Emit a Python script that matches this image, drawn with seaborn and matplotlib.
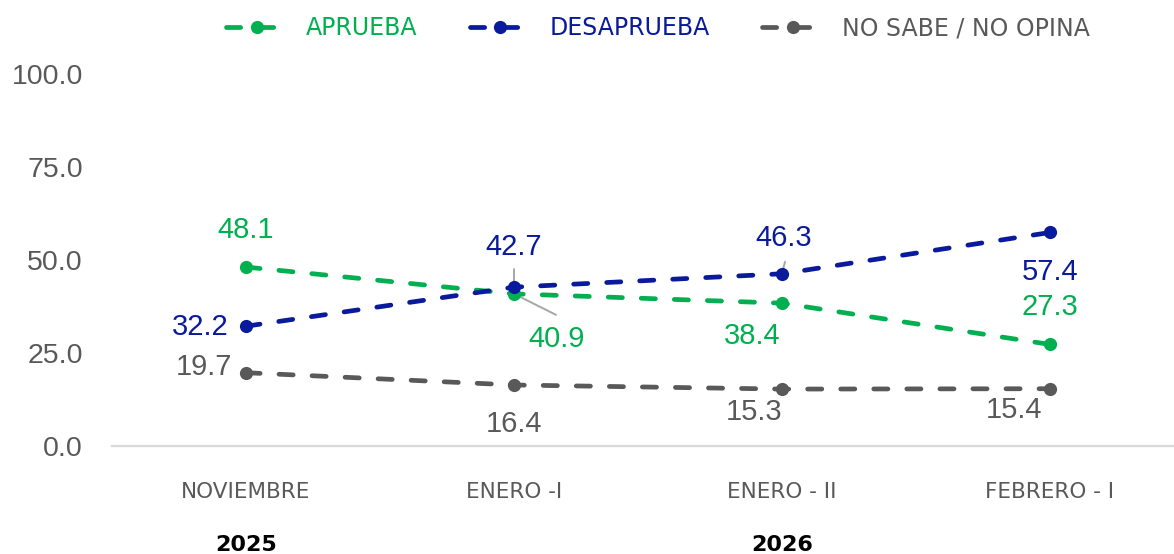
import numpy as np
import pandas as pd
import matplotlib
matplotlib.use("Agg")
import matplotlib.pyplot as plt
import matplotlib.transforms as mtransforms
from matplotlib.lines import Line2D
import seaborn as sns

# ── Data ──────────────────────────────────────────────────────────────────────
periods = ["NOVIEMBRE", "ENERO -I", "ENERO - II", "FEBRERO - I"]
years = {"2025": 0, "2026": 2}
aprueba = [48.1, 40.9, 38.4, 27.3]
desaprueba = [32.2, 42.7, 46.3, 57.4]
no_sabe = [19.7, 16.4, 15.3, 15.4]

series_names = ["APRUEBA", "DESAPRUEBA", "NO SABE / NO OPINA"]
series_vals = [aprueba, desaprueba, no_sabe]
colors = {"APRUEBA": "#00B050", "DESAPRUEBA": "#0A1A9C", "NO SABE / NO OPINA": "#595959"}

records = []
for name, vals in zip(series_names, series_vals):
    for i, v in enumerate(vals):
        records.append({"idx": i, "periodo": periods[i], "serie": name, "valor": v})
df = pd.DataFrame(records)

# label offsets in pixels (dx, dy), up is positive
label_offsets = {
    "APRUEBA": [(0, 37), (43, -45), (-30, -33), (0, 37)],
    "DESAPRUEBA": [(-46, -1), (0, 40), (2, 36), (0, -40)],
    "NO SABE / NO OPINA": [(-42, 6), (0, -39), (-28, -23), (-36, -21)],
}
# leader lines: (series, index, end offset px, shrink at point in pt)
leaders = [("APRUEBA", 1, (42, -21), 2), ("DESAPRUEBA", 1, (0, 18), 1.5),
           ("DESAPRUEBA", 2, (3, 12), 3)]

# ── Figure ────────────────────────────────────────────────────────────────────
sns.set_theme(style="white")
plt.rcParams["font.family"] = ["DejaVu Sans"]

W, H = 1174, 554
fig = plt.figure(figsize=(W / 100, H / 100), dpi=100)
ax = fig.add_axes([112 / W, 1 - 446 / H, (W - 112) / W, (446 - 74) / H])

LW = 3.4
DASH = (3.0, 4.0)
sns.lineplot(data=df, x="idx", y="valor", hue="serie", hue_order=series_names,
             palette=colors, marker="o", markersize=9.5, markeredgewidth=0,
             linewidth=LW, ax=ax, legend=False)
for line in ax.get_lines():
    line.set_dashes(DASH)
    line.set_dash_capstyle("round")

ax.set_xlim(-0.5, (W - 112) / 268 - 0.5)
ax.set_ylim(0, 100)
ax.set_yticks([0, 25, 50, 75, 100])
ax.set_yticklabels([f"{v:.1f}" for v in [0, 25, 50, 75, 100]])
ax.set_xticks(range(len(periods)))
ax.set_xticklabels(periods)
ax.set_xlabel("")
ax.set_ylabel("")

for s in ["top", "right", "left"]:
    ax.spines[s].set_visible(False)
ax.spines["bottom"].set_color("#D9D9D9")
ax.spines["bottom"].set_linewidth(1.6)
ax.tick_params(axis="x", length=0, pad=26, labelsize=15.5, labelcolor="#595959")
ax.tick_params(axis="y", length=0, pad=21, labelsize=20.5, labelcolor="#595959")
for t in ax.get_yticklabels():
    t.set_family("Liberation Sans")

# leader lines
for name, i, end, shrink in leaders:
    v = series_vals[series_names.index(name)][i]
    ax.annotate("", xy=(i, v), xytext=end, textcoords="offset pixels",
                arrowprops=dict(arrowstyle="-", color="#A6A6A6", lw=1.4,
                                shrinkA=0, shrinkB=shrink),
                annotation_clip=False, zorder=1)

# data labels
for name, vals in zip(series_names, series_vals):
    for i, v in enumerate(vals):
        dx, dy = label_offsets[name][i]
        ax.annotate(f"{v:.1f}", xy=(i, v), xytext=(dx, dy), textcoords="offset pixels",
                    ha="center", va="center", fontsize=21, color=colors[name],
                    family="Liberation Sans", annotation_clip=False)

# year labels
trans = mtransforms.blended_transform_factory(ax.transData, fig.transFigure)
for yr, pos in years.items():
    ax.text(pos, 1 - 545 / H, yr, transform=trans, ha="center", va="center",
            fontsize=16, fontweight="bold", color="black")

# legend
handles = [Line2D([0], [0], color=colors[n], lw=LW, dashes=DASH, dash_capstyle="round",
                  marker="o", markersize=9.5, markeredgewidth=0) for n in series_names]
leg = fig.legend(handles, series_names, loc="center", bbox_to_anchor=(658 / W, 1 - 28 / H),
                 ncol=3, frameon=False, fontsize=17, handlelength=2.6, columnspacing=2.2,
                 handletextpad=0.8)
for txt, n in zip(leg.get_texts(), series_names):
    txt.set_color(colors[n])

fig.savefig("out.png", dpi=100, facecolor="white")
